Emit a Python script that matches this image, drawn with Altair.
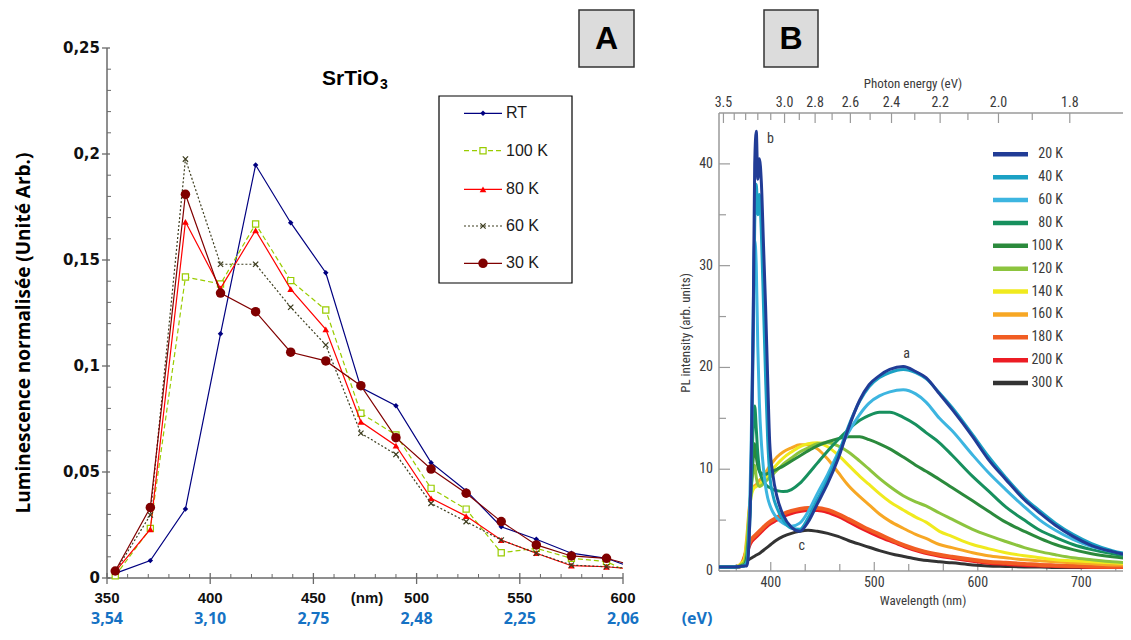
import altair as alt
import pandas as pd

# ---------------- Panel A : SrTiO3 normalised luminescence ----------------
a_nm = [354, 371, 388, 405, 422, 439, 456, 473, 490, 507, 524, 541, 558, 575, 592, 600]
a_marker = [1] * 15 + [0]
a_rt = [0.0022, 0.0082, 0.0325, 0.1152, 0.1948, 0.1676, 0.1440, 0.0898, 0.0813, 0.0544,
        0.0412, 0.0242, 0.0183, 0.0117, 0.0093, 0.0065]
a_100k = [0.0010, 0.0234, 0.1420, 0.1387, 0.1670, 0.1403, 0.1264, 0.0777, 0.0675, 0.0423,
          0.0325, 0.0119, 0.0140, 0.0093, 0.0077, 0.0041]
a_80k = [0.0030, 0.0230, 0.1680, 0.1366, 0.1640, 0.1363, 0.1173, 0.0737, 0.0624, 0.0376,
         0.0292, 0.0179, 0.0117, 0.0058, 0.0053, 0.0046]
a_60k = [0.0030, 0.0297, 0.1976, 0.1480, 0.1480, 0.1277, 0.1099, 0.0683, 0.0583, 0.0352,
         0.0266, 0.0179, 0.0117, 0.0061, 0.0053, 0.0048]
a_30k = [0.0033, 0.0333, 0.1810, 0.1344, 0.1256, 0.1065, 0.1024, 0.0907, 0.0662, 0.0514,
         0.0400, 0.0266, 0.0156, 0.0104, 0.0093, 0.0072]
a_names = ["RT", "100 K", "80 K", "60 K", "30 K"]
a_colors = ["#000080", "#99CC00", "#FF0000", "#3d3d1f", "#800000"]

a_x_ticks = [350, 400, 450, 500, 550, 600]
a_x_labels = ["350", "400", "450", "500", "550", "600"]
a_ev_labels = ["3,54", "3,10", "2,75", "2,48", "2,25", "2,06"]
a_y_ticks = [0, 0.05, 0.10, 0.15, 0.20, 0.25]
a_y_labels = ["0", "0,05", "0,1", "0,15", "0,2", "0,25"]
a_x_minor = [v for v in range(360, 600, 10) if v % 50]
a_y_minor = [i / 100 for i in range(1, 25) if i % 5]

# ---------------- Panel B : PL intensity vs wavelength ----------------
b_wl_sharp = [350, 365, 374, 377, 379, 381, 383, 384.5, 386, 387.5, 389, 391, 393, 395, 397, 399,
              402, 406, 412, 420, 428, 436, 445, 455, 465, 475, 486, 495, 505, 515, 528, 540,
              550, 563, 575, 595, 610, 627, 645, 660, 675, 692, 710, 730, 748]
b_20k = [0.4, 0.4, 0.5, 0.5, 3.0, 10.0, 24.0, 40.0, 43.2, 38.5, 40.5, 38.0, 32.0, 26.0, 19.0, 12.6,
         9.5, 7.3, 5.5, 4.3, 3.9, 4.8, 6.6, 8.6, 11.0, 14.0, 16.8, 18.3, 19.2, 19.8, 20.1, 19.6,
         19.0, 17.4, 15.9, 13.2, 11.0, 9.0, 7.0, 5.7, 4.5, 3.4, 2.5, 1.9, 1.5]
b_40k = [0.4, 0.4, 0.5, 0.8, 3.0, 9.0, 22.0, 34.0, 38.0, 35.0, 37.0, 33.0, 26.0, 19.0, 13.0, 9.5,
         7.5, 6.2, 5.0, 4.2, 4.1, 5.2, 7.0, 9.0, 11.4, 14.2, 16.7, 18.1, 19.0, 19.5, 19.8, 19.5,
         18.9, 17.5, 16.1, 13.4, 11.3, 9.2, 7.2, 5.9, 4.7, 3.6, 2.7, 2.0, 1.6]
b_60k = [0.4, 0.4, 0.5, 0.9, 4.0, 12.0, 25.0, 32.5, 30.0, 22.0, 16.5, 12.5, 10.0, 8.3, 7.2, 6.5,
         5.8, 5.2, 4.7, 4.4, 4.7, 5.8, 7.6, 9.5, 11.6, 13.6, 15.4, 16.5, 17.2, 17.6, 17.8, 17.4,
         16.6, 15.0, 13.8, 11.4, 9.7, 8.0, 6.3, 5.0, 4.0, 3.1, 2.4, 1.9, 1.5]
b_80k = [0.4, 0.4, 0.5, 1.0, 4.0, 9.0, 14.0, 16.2, 14.0, 11.5, 10.0, 9.2, 8.8, 8.5, 8.3, 8.2,
         8.0, 7.9, 7.8, 8.0, 8.6, 9.5, 10.6, 11.8, 12.9, 13.9, 14.8, 15.3, 15.6, 15.6, 15.1, 14.4,
         13.6, 12.6, 11.4, 9.3, 7.9, 6.3, 5.0, 4.0, 3.3, 2.6, 2.1, 1.7, 1.4]
b_100k = [0.4, 0.4, 0.6, 1.5, 4.0, 8.0, 11.0, 12.5, 11.2, 10.3, 9.8, 9.6, 9.5, 9.5, 9.6, 9.7,
          9.8, 10.0, 10.3, 10.8, 11.3, 11.8, 12.3, 12.7, 13.0, 13.2, 13.2, 12.9, 12.5, 12.0, 11.2, 10.4,
          9.8, 9.0, 8.2, 6.9, 5.9, 4.8, 3.9, 3.2, 2.6, 2.1, 1.7, 1.4, 1.2]
b_120k = [0.4, 0.4, 0.8, 2.5, 5.5, 8.0, 9.8, 10.4, 9.2, 8.5, 8.3, 8.4, 8.6, 8.8, 9.0, 9.2,
          9.5, 9.9, 10.5, 11.1, 11.7, 12.1, 12.5, 12.6, 12.3, 11.7, 10.8, 10.0, 9.1, 8.3, 7.4, 6.8,
          6.4, 5.7, 5.1, 4.1, 3.5, 2.9, 2.3, 1.9, 1.6, 1.3, 1.1, 0.9, 0.8]
b_140k = [0.4, 0.4, 1.0, 3.0, 5.5, 7.3, 8.0, 8.2, 8.3, 8.4, 8.5, 8.7, 8.9, 9.2, 9.4, 9.7,
          10.0, 10.5, 11.1, 11.7, 12.2, 12.5, 12.6, 12.2, 11.4, 10.4, 9.3, 8.5, 7.6, 6.8, 6.0, 5.3,
          4.8, 3.9, 3.4, 2.6, 2.2, 1.8, 1.5, 1.3, 1.1, 1.0, 0.9, 0.8, 0.7]
b_160k = [0.4, 0.4, 1.1, 3.5, 6.0, 7.6, 8.2, 8.4, 8.5, 8.7, 8.9, 9.1, 9.4, 9.7, 10.0, 10.3,
          10.7, 11.2, 11.7, 12.1, 12.4, 12.4, 12.0, 11.0, 9.7, 8.4, 7.3, 6.5, 5.6, 4.9, 4.2, 3.6,
          3.2, 2.6, 2.3, 1.8, 1.5, 1.3, 1.1, 1.0, 0.9, 0.8, 0.7, 0.6, 0.6]
b_wl_broad = [350, 368, 372, 376, 380, 385, 390, 395, 400, 405, 412, 420, 428, 436, 445, 455,
              465, 475, 490, 505, 520, 530, 545, 563, 575, 595, 610, 627, 645, 660, 675, 692,
              710, 730, 748]
b_180k = [0.4, 0.4, 0.7, 1.8, 2.9, 3.5, 4.0, 4.5, 4.9, 5.2, 5.6, 5.9, 6.1, 6.2, 6.2, 6.0,
          5.6, 5.1, 4.3, 3.6, 2.9, 2.5, 2.0, 1.6, 1.4, 1.1, 0.9, 0.8, 0.7, 0.6, 0.55, 0.5,
          0.45, 0.42, 0.4]
b_200k = [0.4, 0.4, 0.6, 1.6, 2.7, 3.3, 3.8, 4.3, 4.7, 5.0, 5.4, 5.7, 5.9, 6.0, 6.0, 5.8,
          5.4, 4.9, 4.1, 3.4, 2.8, 2.4, 1.9, 1.5, 1.3, 1.0, 0.8, 0.7, 0.6, 0.55, 0.5, 0.45,
          0.4, 0.4, 0.4]
b_300k = [0.4, 0.4, 0.5, 0.9, 1.2, 1.5, 1.8, 2.2, 2.6, 3.0, 3.4, 3.7, 3.9, 4.0, 3.9, 3.7,
          3.4, 3.0, 2.5, 2.0, 1.6, 1.4, 1.1, 0.9, 0.8, 0.6, 0.5, 0.45, 0.4, 0.4, 0.35, 0.35,
          0.35, 0.35, 0.35]
b_names = ["20 K", "40 K", "60 K", "80 K", "100 K", "120 K", "140 K", "160 K", "180 K", "200 K", "300 K"]
b_colors = ["#213c96", "#1ba1c4", "#3db5e0", "#17905e", "#2b8a3c", "#8cc43e", "#f0ea1e",
            "#f7a724", "#f15d23", "#ec1c24", "#333333"]

b_y_ticks = [0, 10, 20, 30, 40]
b_y_labels = ["0", "10", "20", "30", "40"]
b_y_minor = [5, 15, 25, 35]
b_x_ticks = [400, 500, 600, 700]
b_x_labels = ["400", "500", "600", "700"]
b_x_minor = [366.7, 433.3, 466.7, 533.3, 566.7, 633.3, 666.7, 733.3]
b_e_ticks = [3.5, 3.0, 2.8, 2.6, 2.4, 2.2, 2.0, 1.8]
b_e_labels = ["3.5", "3.0", "2.8", "2.6", "2.4", "2.2", "2.0", "1.8"]
b_e_minor = [3.4, 3.3, 3.2, 3.1, 2.9, 2.7, 2.5, 2.3, 2.1, 1.9]
b_ann_text = ["b", "a", "c"]
b_ann_wl = [399.7, 531.3, 429.9]
b_ann_i = [42.4, 21.3, 2.46]

# ---------------- helpers ----------------
W, H = 1115, 620
ONE = pd.DataFrame({"k": [0]})
FA = "Liberation Sans, Arial, sans-serif"
FW = "DejaVu Sans, Verdana, sans-serif"
FC = "Open Sans, Liberation Sans, sans-serif"
FB = "Liberation Sans Narrow, Roboto Condensed, Liberation Sans, sans-serif"
GREY_B = "#3a3a3a"
BR = 1115          # right end of panel B in view pixels


def XA(f):
    return alt.X(f, scale=alt.Scale(domain=[350, 600], range=[99, 615], nice=False, zero=False), axis=None)


def YA(f):
    return alt.Y(f, scale=alt.Scale(domain=[0, 0.25], range=[570, 40], nice=False, zero=False), axis=None)


def XB(f):
    return alt.X(f, scale=alt.Scale(domain=[350, 740.3], range=[711, BR], nice=False, zero=False), axis=None)


def YB(f):
    return alt.Y(f, scale=alt.Scale(domain=[0, 45], range=[563, 105], nice=False, zero=False), axis=None)


def prule(x, x2, y, y2, color, w=1.0):
    return alt.Chart(ONE).mark_rule(color=color, strokeWidth=w).encode(
        x=alt.value(x), x2=alt.value(x2), y=alt.value(y), y2=alt.value(y2))


def prect(x, x2, y, y2, fill, stroke, w):
    return alt.Chart(ONE).mark_rect(fill=fill, stroke=stroke, strokeWidth=w).encode(
        x=alt.value(x), x2=alt.value(x2), y=alt.value(y), y2=alt.value(y2))


def ptext(t, x, y, size, font, color="#000", weight="normal", align="center", baseline="middle", angle=None):
    kw = dict(align=align, baseline=baseline, fontSize=size, font=font, color=color, fontWeight=weight)
    if angle is not None:
        kw["angle"] = angle
    return alt.Chart(pd.DataFrame({"t": [t]})).mark_text(**kw).encode(
        text="t:N", x=alt.value(x), y=alt.value(y))


def yticks(vals, Yf, x, x2, color, w):
    return alt.Chart(pd.DataFrame({"v": vals})).mark_rule(color=color, strokeWidth=w).encode(
        y=Yf("v:Q"), x=alt.value(x), x2=alt.value(x2))


def xticks(vals, Xf, y, y2, color, w):
    return alt.Chart(pd.DataFrame({"v": vals})).mark_rule(color=color, strokeWidth=w).encode(
        x=Xf("v:Q"), y=alt.value(y), y2=alt.value(y2))


layers = []

# ================= Panel A =================
AX = "#6a6a6a"
layers.append(prule(99, 99, 40, 570, AX, 1.5))
layers.append(prule(99, 615, 570, 570, AX, 1.5))
layers.append(yticks(a_y_ticks, YA, 94, 102, AX, 1.3))
layers.append(yticks(a_y_minor, YA, 99, 103, AX, 1.0))
layers.append(xticks(a_x_ticks, XA, 565, 576, AX, 1.3))
layers.append(xticks(a_x_minor, XA, 566, 570, AX, 1.0))

layers.append(alt.Chart(pd.DataFrame({"v": a_y_ticks, "t": a_y_labels})).mark_text(
    align="right", baseline="middle", fontSize=15, font=FW, fontWeight="bold", color="#111").encode(
    y=YA("v:Q"), x=alt.value(92), text="t:N"))
layers.append(alt.Chart(pd.DataFrame({"v": a_x_ticks, "t": a_x_labels})).mark_text(
    align="center", baseline="middle", fontSize=15, font=FA, fontWeight="bold", color="#111").encode(
    x=XA("v:Q"), y=alt.value(590), text="t:N"))
layers.append(alt.Chart(pd.DataFrame({"v": a_x_ticks, "t": a_ev_labels})).mark_text(
    align="center", baseline="middle", fontSize=16, font=FC, fontWeight="bold", color="#1572c4").encode(
    x=XA("v:Q"), y=alt.value(611), text="t:N"))
layers.append(ptext("(nm)", 359, 590, 15, FA, "#111", "bold"))
layers.append(ptext("(eV)", 689, 611, 16, FC, "#1572c4", "bold"))
layers.append(ptext("Luminescence normalisée (Unité Arb.)", 16, 325, 19, FC, "#000", "bold", angle=270))
layers.append(ptext("SrTiO", 314, 77, 21, FA, "#000", "bold", align="left", baseline="alphabetic"))
layers.append(ptext("3", 372, 81, 14, FA, "#000", "bold", align="left", baseline="alphabetic"))

XPATH = "M-1,-1L1,1M-1,1L1,-1"
a_series = [a_rt, a_100k, a_80k, a_60k, a_30k]
a_dash = [None, [5, 3], None, [2, 2], None]
a_pt = [
    dict(shape="diamond", size=30, filled=True),
    dict(shape="square", size=38, fill="white", strokeWidth=1.2),
    dict(shape="triangle-up", size=45, filled=True),
    dict(shape=XPATH, size=28, filled=False, strokeWidth=1.2),
    dict(shape="circle", size=90, filled=True),
]

for vals, name, col, dash, pt in zip(a_series, a_names, a_colors, a_dash, a_pt):
    df = pd.DataFrame({"nm": a_nm, "v": vals, "m": a_marker})
    lkw = dict(color=col, strokeWidth=1.2)
    if dash:
        lkw["strokeDash"] = dash
    layers.append(alt.Chart(df).mark_line(**lkw).encode(x=XA("nm:Q"), y=YA("v:Q"), order="nm:Q"))
    pkw = dict(pt)
    if pkw.get("fill") == "white":
        pkw["stroke"] = col
    else:
        pkw["color"] = col
    pkw["opacity"] = 1
    layers.append(alt.Chart(df).transform_filter("datum.m == 1").mark_point(**pkw).encode(
        x=XA("nm:Q"), y=YA("v:Q")))

# legend A
layers.append(prect(431, 564, 88, 275, "white", "#000", 1.2))
leg_y = [105.3, 142.7, 181.3, 218.0, 255.3]
for name, col, dash, pt, ly in zip(a_names, a_colors, a_dash, a_pt, leg_y):
    lkw = dict(color=col, strokeWidth=1.2)
    if dash:
        lkw["strokeDash"] = dash
    layers.append(alt.Chart(ONE).mark_rule(**lkw).encode(
        x=alt.value(456), x2=alt.value(494), y=alt.value(ly), y2=alt.value(ly)))
    pkw = dict(pt)
    if pkw.get("fill") == "white":
        pkw["stroke"] = col
    else:
        pkw["color"] = col
    pkw["opacity"] = 1
    layers.append(alt.Chart(ONE).mark_point(**pkw).encode(x=alt.value(475), y=alt.value(ly)))
    layers.append(ptext(name, 498, ly, 16, FA, "#1a1a1a", align="left"))

# boxes A / B
layers.append(prect(571, 626, 2, 59, "#dcdcdc", "#333", 1.5))
layers.append(ptext("A", 598.5, 31, 32, FA, "#000", "bold"))
layers.append(prect(756, 810, 2, 59, "#dcdcdc", "#333", 1.5))
layers.append(ptext("B", 783, 31, 32, FA, "#000", "bold"))

# ================= Panel B =================
BX = "#9a9a9a"
layers.append(prule(711, BR, 105, 105, BX, 1.5))
layers.append(prule(711, 711, 105, 563, BX, 1.5))
layers.append(prule(711, BR, 563, 563, BX, 1.5))
layers.append(yticks(b_y_ticks, YB, 711, 722, BX, 1.2))
layers.append(yticks(b_y_minor, YB, 711, 718, BX, 1.2))
layers.append(xticks(b_x_ticks, XB, 554, 563, BX, 1.2))
layers.append(xticks(b_x_minor, XB, 556, 563, BX, 1.2))

e_df = pd.DataFrame({"wl": [1240 / e for e in b_e_ticks], "t": b_e_labels})
em_df = pd.DataFrame({"wl": [1240 / e for e in b_e_minor]})
layers.append(alt.Chart(e_df).mark_rule(color=BX, strokeWidth=1.2).encode(
    x=XB("wl:Q"), y=alt.value(105), y2=alt.value(115)))
layers.append(alt.Chart(em_df).mark_rule(color=BX, strokeWidth=1.2).encode(
    x=XB("wl:Q"), y=alt.value(105), y2=alt.value(112)))
layers.append(alt.Chart(e_df).mark_text(fontSize=14, font=FB, color=GREY_B, baseline="middle").encode(
    x=XB("wl:Q"), y=alt.value(95), text="t:N"))
layers.append(alt.Chart(pd.DataFrame({"v": b_y_ticks, "t": b_y_labels})).mark_text(
    fontSize=14, font=FB, color=GREY_B, align="right", baseline="middle").encode(
    y=YB("v:Q"), x=alt.value(705), text="t:N"))
layers.append(alt.Chart(pd.DataFrame({"v": b_x_ticks, "t": b_x_labels})).mark_text(
    fontSize=14, font=FB, color=GREY_B, baseline="middle").encode(
    x=XB("v:Q"), y=alt.value(575), text="t:N"))
layers.append(ptext("Photon energy (eV)", 905, 76, 13, FB, GREY_B))
layers.append(ptext("Wavelength (nm)", 915, 593, 13, FB, GREY_B))
layers.append(ptext("PL intensity (arb. units)", 678, 325, 13, FB, GREY_B, angle=270))

b_series = [b_20k, b_40k, b_60k, b_80k, b_100k, b_120k, b_140k, b_160k, b_180k, b_200k, b_300k]
b_grid = [b_wl_sharp] * 8 + [b_wl_broad] * 3
b_width = [3, 3, 3, 3, 3, 3, 3, 3, 4, 4, 3]
for vals, wl, col, sw in reversed(list(zip(b_series, b_grid, b_colors, b_width))):
    df = pd.DataFrame({"wl": wl, "i": vals})
    layers.append(alt.Chart(df).mark_line(color=col, strokeWidth=sw, interpolate="monotone", clip=True).encode(
        x=XB("wl:Q"), y=YB("i:Q"), order="wl:Q"))

layers.append(alt.Chart(pd.DataFrame({"wl": b_ann_wl, "i": b_ann_i, "t": b_ann_text})).mark_text(
    fontSize=14, font=FB, color=GREY_B, baseline="middle").encode(
    x=XB("wl:Q"), y=YB("i:Q"), text="t:N"))

# legend B
for k, (name, col) in enumerate(zip(b_names, b_colors)):
    ly = 146.3 + 22.87 * k
    layers.append(alt.Chart(ONE).mark_rule(color=col, strokeWidth=4.5).encode(
        x=alt.value(985), x2=alt.value(1020), y=alt.value(ly), y2=alt.value(ly)))
    layers.append(ptext(name, 1055, ly, 14, FB, GREY_B, align="right"))

chart = alt.layer(*layers).resolve_scale(x="independent", y="independent").properties(
    width=W, height=H, padding=0,
    autosize=alt.AutoSizeParams(type="none")
).configure_view(strokeWidth=0)

chart.save("out.html", embed_options={"renderer": "svg", "actions": False})
